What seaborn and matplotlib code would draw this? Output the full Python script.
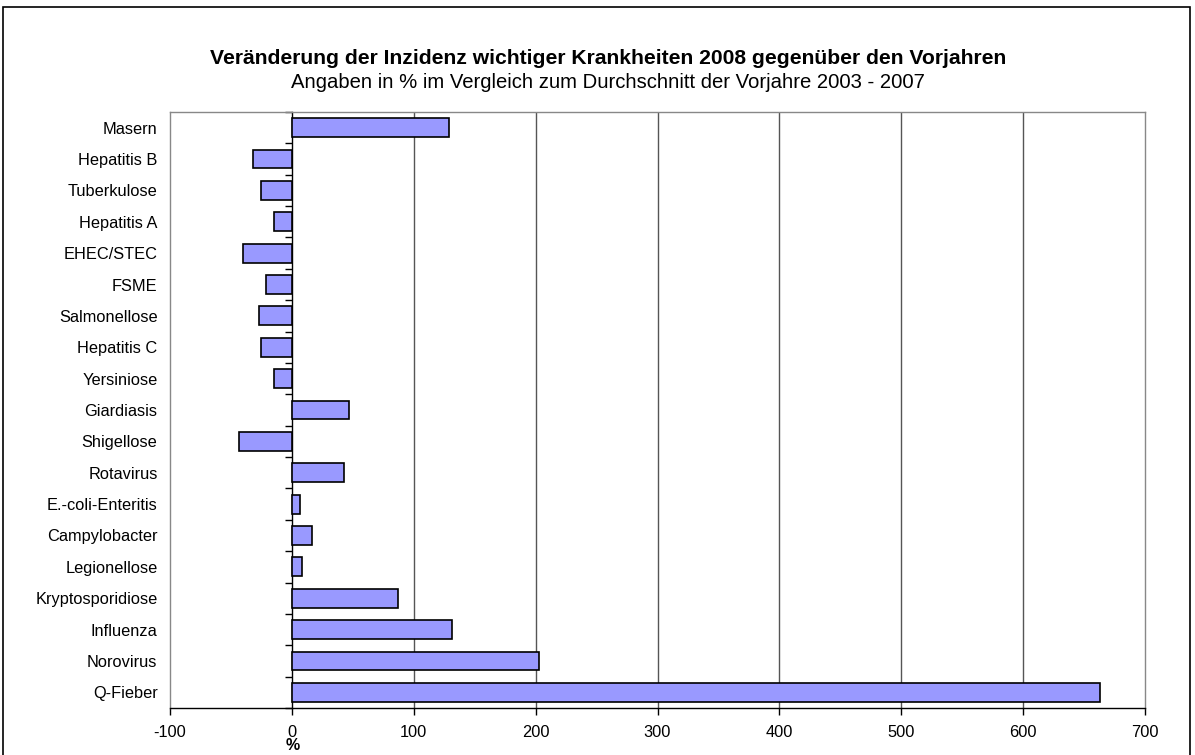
import matplotlib
matplotlib.use("Agg")
import matplotlib.pyplot as plt
import matplotlib.patches as mpatches
import seaborn as sns
import pandas as pd

categories = ["Masern", "Hepatitis B", "Tuberkulose", "Hepatitis A", "EHEC/STEC", "FSME",
              "Salmonellose", "Hepatitis C", "Yersiniose", "Giardiasis", "Shigellose",
              "Rotavirus", "E.-coli-Enteritis", "Campylobacter", "Legionellose",
              "Kryptosporidiose", "Influenza", "Norovirus", "Q-Fieber"]
values = [129, -32, -25.5, -14.5, -40, -21, -27, -25.5, -14.5, 47, -43, 43, 6.5, 16.5, 8, 87, 131, 203, 663]
x_ticks = [-100, 0, 100, 200, 300, 400, 500, 600, 700]

sns.set_theme(style="white")
plt.rcParams['font.family'] = ['Liberation Sans', 'DejaVu Sans']
plt.rcParams['text.color'] = 'black'
plt.rcParams['xtick.color'] = 'black'
plt.rcParams['ytick.color'] = 'black'

df = pd.DataFrame({"Krankheit": categories, "Wert": values})

fig = plt.figure(figsize=(11.95, 7.55), dpi=100)
ax = fig.add_axes([170/1195, 47/755, 975/1195, 596/755])

sns.barplot(data=df, x="Wert", y="Krankheit", order=categories, orient="h",
            color="#9999FF", saturation=1, width=0.6, edgecolor="black",
            linewidth=1.2, ax=ax, zorder=3)

ax.set_xlim(-100, 700)
ax.set_ylim(len(categories) - 0.5, -0.5)
ax.set_xticks(x_ticks)
ax.set_xticklabels([str(t) for t in x_ticks], fontsize=11.8)
ax.set_xlabel("")
ax.set_ylabel("")
ax.tick_params(axis="y", length=0, pad=9, labelsize=11.8, labelcolor="black")
ax.tick_params(axis="x", bottom=True, length=5, width=1, direction="out", color="black",
               pad=7, labelcolor="black")

for t in x_ticks[1:-1]:
    if t != 0:
        ax.axvline(t, color="#555555", linewidth=1, zorder=1)

for side in ["left", "top", "right"]:
    ax.spines[side].set_color("#888888")
    ax.spines[side].set_linewidth(1)
ax.spines["bottom"].set_color("black")
ax.spines["bottom"].set_linewidth(1)

# vertical axis at x = 0 with ticks at category boundaries
frac0 = (0 - (-100)) / (700 - (-100))
sec = ax.secondary_yaxis(frac0)
sec.set_yticks([i - 0.5 for i in range(len(categories) + 1)])
sec.set_yticklabels([])
sec.tick_params(axis="y", length=5, width=1, direction="out", color="black")
sec.spines["left"].set_color("black")
sec.spines["left"].set_linewidth(1)

fig.text(608/1195, 1 - 58/755, "Veränderung der Inzidenz wichtiger Krankheiten 2008 gegenüber den Vorjahren",
         ha="center", va="center", fontsize=15.2, fontweight="bold", color="black")
fig.text(608/1195, 1 - 82/755, "Angaben in % im Vergleich zum Durchschnitt der Vorjahre 2003 - 2007",
         ha="center", va="center", fontsize=14.6, color="black")
fig.text(293/1195, 1 - 745/755, "%", ha="center", va="center", fontsize=11.5, fontweight="bold",
         color="black")

border = mpatches.Rectangle((3/1195, -0.05), 1187/1195, 1.05 - 7/755, transform=fig.transFigure,
                            fill=False, edgecolor="black", linewidth=1.2, clip_on=False)
fig.patches.append(border)

fig.savefig("out.png", dpi=100)
